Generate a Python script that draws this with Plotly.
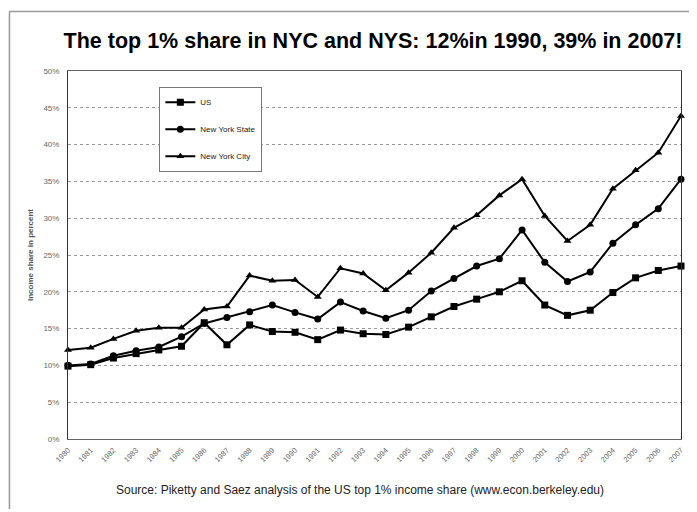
import plotly.graph_objects as go

years = list(range(1980, 2008))
us = [9.9, 10.1, 11.0, 11.6, 12.1, 12.6, 15.8, 12.8, 15.5, 14.6, 14.5, 13.5, 14.8, 14.3,
      14.2, 15.2, 16.6, 18.0, 19.0, 20.0, 21.5, 18.2, 16.8, 17.5, 19.9, 21.9, 22.9, 23.5]
nys = [10.0, 10.2, 11.3, 12.0, 12.5, 13.9, 15.7, 16.5, 17.3, 18.2, 17.2, 16.3, 18.6, 17.4,
       16.4, 17.5, 20.1, 21.8, 23.5, 24.5, 28.4, 24.0, 21.4, 22.7, 26.6, 29.1, 31.3, 35.3]
nyc = [12.1, 12.4, 13.6, 14.7, 15.1, 15.1, 17.6, 18.0, 22.2, 21.5, 21.6, 19.3, 23.2, 22.5,
       20.2, 22.6, 25.3, 28.7, 30.4, 33.1, 35.3, 30.3, 26.9, 29.1, 34.0, 36.5, 38.9, 43.9]
series = [("US", us, "square"), ("New York State", nys, "circle"), ("New York City", nyc, "triangle-up")]
yticks = list(range(0, 51, 5))

title = "The top 1% share in NYC and NYS: 12%in 1990, 39% in 2007!"
source = "Source: Piketty and Saez analysis of the US top 1% income share (www.econ.berkeley.edu)"

fig = go.Figure()
for name, vals, sym in series:
    fig.add_trace(go.Scatter(
        x=years, y=vals, name=name, mode="lines+markers", legendgroup=name,
        line=dict(color="black", width=2),
        marker=dict(symbol=sym, size=7, color="black"),
        cliponaxis=False,
    ))

# page body has an 8px margin, so the figure is sized to fill the rest of the window
W, H = 689, 504
font_main = "Liberation Sans, Arial, sans-serif"
fig.update_layout(
    width=W, height=H,
    margin=dict(l=60, r=12, t=63, b=73),
    paper_bgcolor="white", plot_bgcolor="white",
    font=dict(family=font_main, color="#333"),
    title=dict(text="<b>" + title + "</b>", xref="container", yref="container",
               x=(373 - 8) / W, xanchor="center", y=1 - 32 / H, yanchor="middle",
               font=dict(family=font_main, size=21.5, color="black")),
    showlegend=True,
    legend=dict(x=0.149, y=0.957, xanchor="left", yanchor="top",
                bordercolor="#777", borderwidth=1, bgcolor="white",
                font=dict(size=8, color="#222"), tracegroupgap=8,
                itemwidth=30),
    xaxis=dict(range=[1980, 2007], tickmode="array", tickvals=years,
               ticktext=[str(y) for y in years], tickangle=-45,
               tickfont=dict(size=7.5, color="#666"), showgrid=False,
               showline=True, linecolor="#666", linewidth=1, mirror=True,
               ticks="", zeroline=False, ticklabelstandoff=3),
    yaxis=dict(range=[0, 50], tickmode="array", tickvals=yticks,
               ticktext=[f"{v}%" for v in yticks],
               tickfont=dict(size=8, color="#666"), ticklabelstandoff=6,
               showgrid=True, gridcolor="#999", griddash="dot", gridwidth=1,
               showline=True, linecolor="#333", linewidth=1, mirror=True,
               ticks="", zeroline=False,
               title=dict(text="<b>Income share in percent</b>", font=dict(size=8, color="#555"), standoff=8)),
    shapes=[
        dict(type="line", xref="paper", yref="paper", x0=-0.0955, x1=1.02, y0=1.162, y1=1.162,
             line=dict(color="#999", width=1.5)),
        dict(type="line", xref="paper", yref="paper", x0=-0.0955, x1=-0.0955, y0=1.162, y1=-0.19,
             line=dict(color="#999", width=1.5)),
    ],
    annotations=[
        dict(text=source, xref="paper", yref="paper", x=0.476, y=-0.139, xanchor="center",
             yanchor="middle", showarrow=False, font=dict(size=12, color="#222")),
    ],
)

fig.write_html("out.html")
